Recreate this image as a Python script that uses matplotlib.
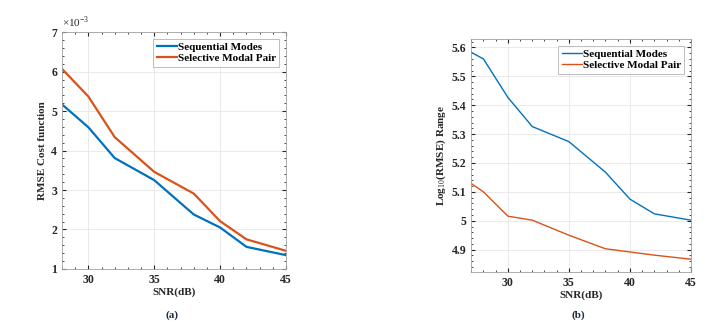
import matplotlib
matplotlib.use("Agg")
import matplotlib.pyplot as plt
from matplotlib.ticker import AutoMinorLocator, FixedLocator

plt.rcParams['font.family'] = ['Liberation Serif', 'DejaVu Serif']
plt.rcParams['mathtext.fontset'] = 'custom'
plt.rcParams['mathtext.rm'] = 'Liberation Serif'
plt.rcParams['mathtext.bf'] = 'Liberation Serif:bold'

# ---- data (a)
snr_a = [28, 30, 32, 35, 38, 40, 42, 45]
seq_a = [5.17, 4.59, 3.81, 3.25, 2.38, 2.05, 1.56, 1.35]
sel_a = [6.07, 5.37, 4.34, 3.46, 2.91, 2.21, 1.75, 1.46]

# ---- data (b)
snr_b = [27, 28, 30, 32, 35, 38, 40, 42, 45]
seq_b = [5.583, 5.56, 5.427, 5.326, 5.274, 5.168, 5.075, 5.024, 5.002]
sel_b = [5.129, 5.10, 5.016, 5.002, 4.950, 4.903, 4.892, 4.881, 4.867]

xticks = [30, 35, 40, 45]
yticks_a = [1, 2, 3, 4, 5, 6, 7]
yticks_b = [4.9, 5.0, 5.1, 5.2, 5.3, 5.4, 5.5, 5.6]
ytick_labels_b = ['4.9', '5', '5.1', '5.2', '5.3', '5.4', '5.5', '5.6']

blue = '#0072BD'
orange = '#D95319'

fig = plt.figure(figsize=(7.25, 3.28), dpi=100)

def style(ax):
    ax.tick_params(direction='in', which='both', top=True, right=True, labelsize=8.5, colors='#262626')
    ax.tick_params(which='major', length=3)
    ax.tick_params(which='minor', length=1.5)
    for s in ax.spines.values():
        s.set_color('#a0a0a0')
        s.set_linewidth(0.6)
    ax.grid(True, which='major', color='#e6e6e6', linewidth=0.6)
    ax.set_axisbelow(True)
    for lab in ax.get_xticklabels() + ax.get_yticklabels():
        lab.set_fontweight('bold')
        lab.set_color('#262626')

# (a)
ax1 = fig.add_axes([0.0855, 0.180, 0.309, 0.722])
ax1.plot(snr_a, seq_a, color=blue, lw=1.6, label='Sequential Modes')
ax1.plot(snr_a, sel_a, color=orange, lw=1.6, label='Selective Modal Pair')
ax1.set_xlim(28, 45)
ax1.set_ylim(1, 7)
ax1.set_xticks(xticks)
ax1.set_yticks(yticks_a)
ax1.xaxis.set_minor_locator(AutoMinorLocator(5))
ax1.yaxis.set_minor_locator(AutoMinorLocator(5))
style(ax1)
ax1.set_xlabel('SNR(dB)', fontsize=8, fontweight='bold', color='#262626', labelpad=1)
ax1.set_ylabel('RMSE Cost function', fontsize=8, fontweight='bold', color='#262626', labelpad=3)
ax1.text(0.0, 1.01, r'$\times10^{-3}$', transform=ax1.transAxes, fontsize=8, color='#262626', ha='left', va='bottom')
leg1 = ax1.legend(loc='upper right', prop={'weight': 'bold', 'size': 8}, frameon=True, fancybox=False,
                  handlelength=1.8, handletextpad=0.1, borderpad=0.3, labelspacing=0.15, borderaxespad=0.6)
leg1.get_frame().set_edgecolor('#a0a0a0')
leg1.get_frame().set_linewidth(0.6)

# (b)
ax2 = fig.add_axes([0.650, 0.171, 0.303, 0.710])
ax2.plot(snr_b, seq_b, color=blue, lw=1.0, label='Sequential Modes')
ax2.plot(snr_b, sel_b, color=orange, lw=1.0, label='Selective Modal Pair')
ax2.set_xlim(27, 45)
ax2.set_ylim(4.823, 5.629)
ax2.set_xticks(xticks)
ax2.yaxis.set_major_locator(FixedLocator(yticks_b))
ax2.set_yticklabels(ytick_labels_b)
ax2.xaxis.set_minor_locator(AutoMinorLocator(5))
ax2.yaxis.set_minor_locator(AutoMinorLocator(5))
style(ax2)
ax2.set_xlabel('SNR(dB)', fontsize=8, fontweight='bold', color='#262626', labelpad=1)
ax2.set_ylabel(r'Log$_{10}$(RMSE) Range', fontsize=8, fontweight='bold', color='#262626', labelpad=3)
leg2 = ax2.legend(loc='upper right', prop={'weight': 'bold', 'size': 8}, frameon=True, fancybox=False,
                  handlelength=1.8, handletextpad=0.1, borderpad=0.3, labelspacing=0.15, borderaxespad=0.6)
leg2.get_frame().set_edgecolor('#a0a0a0')
leg2.get_frame().set_linewidth(0.6)

fig.text(172/725, 1 - 315/328, '(a)', fontsize=8, fontweight='bold', color='#1f2a44', ha='center', va='center')
fig.text(578/725, 1 - 315/328, '(b)', fontsize=8, fontweight='bold', color='#1f2a44', ha='center', va='center')

fig.savefig('out.png', dpi=100)
